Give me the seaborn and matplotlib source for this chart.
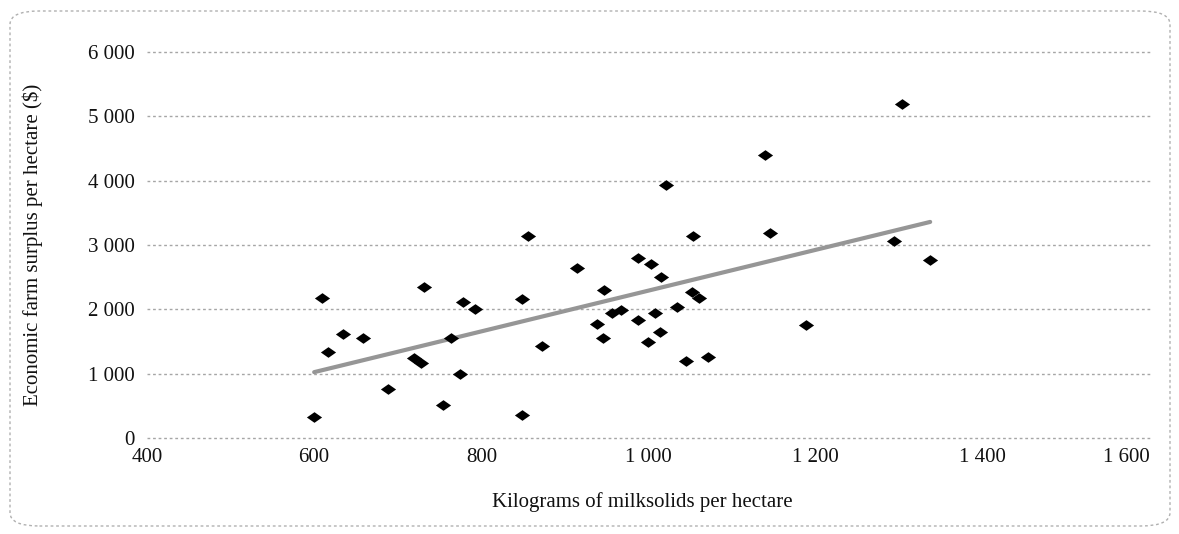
import numpy as np
import pandas as pd
import matplotlib
matplotlib.use('Agg')
import matplotlib.pyplot as plt
from matplotlib.patches import FancyBboxPatch
from matplotlib.ticker import FuncFormatter
import seaborn as sns

# Values
milksolids = [600, 609, 617, 635, 659, 688, 720, 728, 731, 754, 764, 774, 778, 792,
              849, 849, 872, 856, 915, 1021, 1053, 1145, 987, 1003, 1015, 947, 1052,
              1061, 1034, 1008, 967, 956, 988, 938, 945, 1014, 999, 1045, 1071, 1189,
              1303, 1294, 1337, 1139]
surplus = [330, 2180, 1340, 1620, 1555, 760, 1245, 1170, 2350, 510, 1555, 995, 2115, 2005,
           2160, 360, 1430, 3140, 2640, 3935, 3140, 3190, 2800, 2705, 2505, 2300, 2270,
           2175, 2035, 1945, 1990, 1945, 1835, 1775, 1555, 1650, 1495, 1200, 1260, 1760,
           5190, 3065, 2770, 4400]

x_ticks = [400, 600, 800, 1000, 1200, 1400, 1600]
y_ticks = [0, 1000, 2000, 3000, 4000, 5000, 6000]

df = pd.DataFrame({'milksolids': milksolids, 'surplus': surplus})

sns.set_style('white')
plt.rcParams['font.family'] = ['Liberation Serif', 'DejaVu Serif']

fig = plt.figure(figsize=(11.79, 5.34), dpi=100)
ax = fig.add_axes([147 / 1179, 1 - 438 / 534, (1150 - 147) / 1179, (438 - 52) / 534])

diamond = [(-1, 0), (0, 0.7), (1, 0), (0, -0.7), (-1, 0)]
sns.regplot(data=df, x='milksolids', y='surplus', ax=ax, ci=None,
            marker=diamond,
            scatter_kws={'color': 'black', 's': 120, 'linewidths': 0, 'alpha': 1, 'zorder': 3},
            line_kws={'color': '#969696', 'linewidth': 3, 'zorder': 2})

ax.set_xlim(400, 1600)
ax.set_ylim(0, 6000)
ax.set_xticks(x_ticks)
ax.set_yticks(y_ticks)
fmt = FuncFormatter(lambda v, p: f'{int(v):,}'.replace(',', ' '))
ax.xaxis.set_major_formatter(fmt)
ax.yaxis.set_major_formatter(fmt)
ax.tick_params(length=0, labelsize=15, colors='#111111')
ax.tick_params(axis='y', pad=9)
ax.tick_params(axis='x', pad=7)
# last x label sits inside the plot edge, as in the original
ax.get_xticklabels()[-1].set_horizontalalignment('right')

ax.grid(axis='y', color='#a6a6a6', linestyle=(0, (2, 2)), linewidth=1.0)
ax.grid(axis='x', visible=False)
ax.set_axisbelow(True)
for gl in ax.get_ygridlines():
    gl.set_clip_on(False)
sns.despine(ax=ax, left=True, bottom=True)

ax.set_xlabel('Kilograms of milksolids per hectare', fontsize=15, color='#111111')
ax.set_ylabel('Economic farm surplus per hectare ($)', fontsize=15, color='#111111')
ax.xaxis.set_label_coords(0.494, -0.14)
ax.yaxis.set_label_coords(-0.104, 0.5)

# rounded dotted frame around the chart
frame = FancyBboxPatch((10 / 1179, 8 / 534), 1160 / 1179, 515 / 534,
                       boxstyle='round,pad=0,rounding_size=0.025',
                       transform=fig.transFigure, fill=False,
                       edgecolor='#b0b0b0', linestyle=(0, (2, 2)), linewidth=1.0)
fig.patches.append(frame)

fig.savefig('out.png', dpi=100)
